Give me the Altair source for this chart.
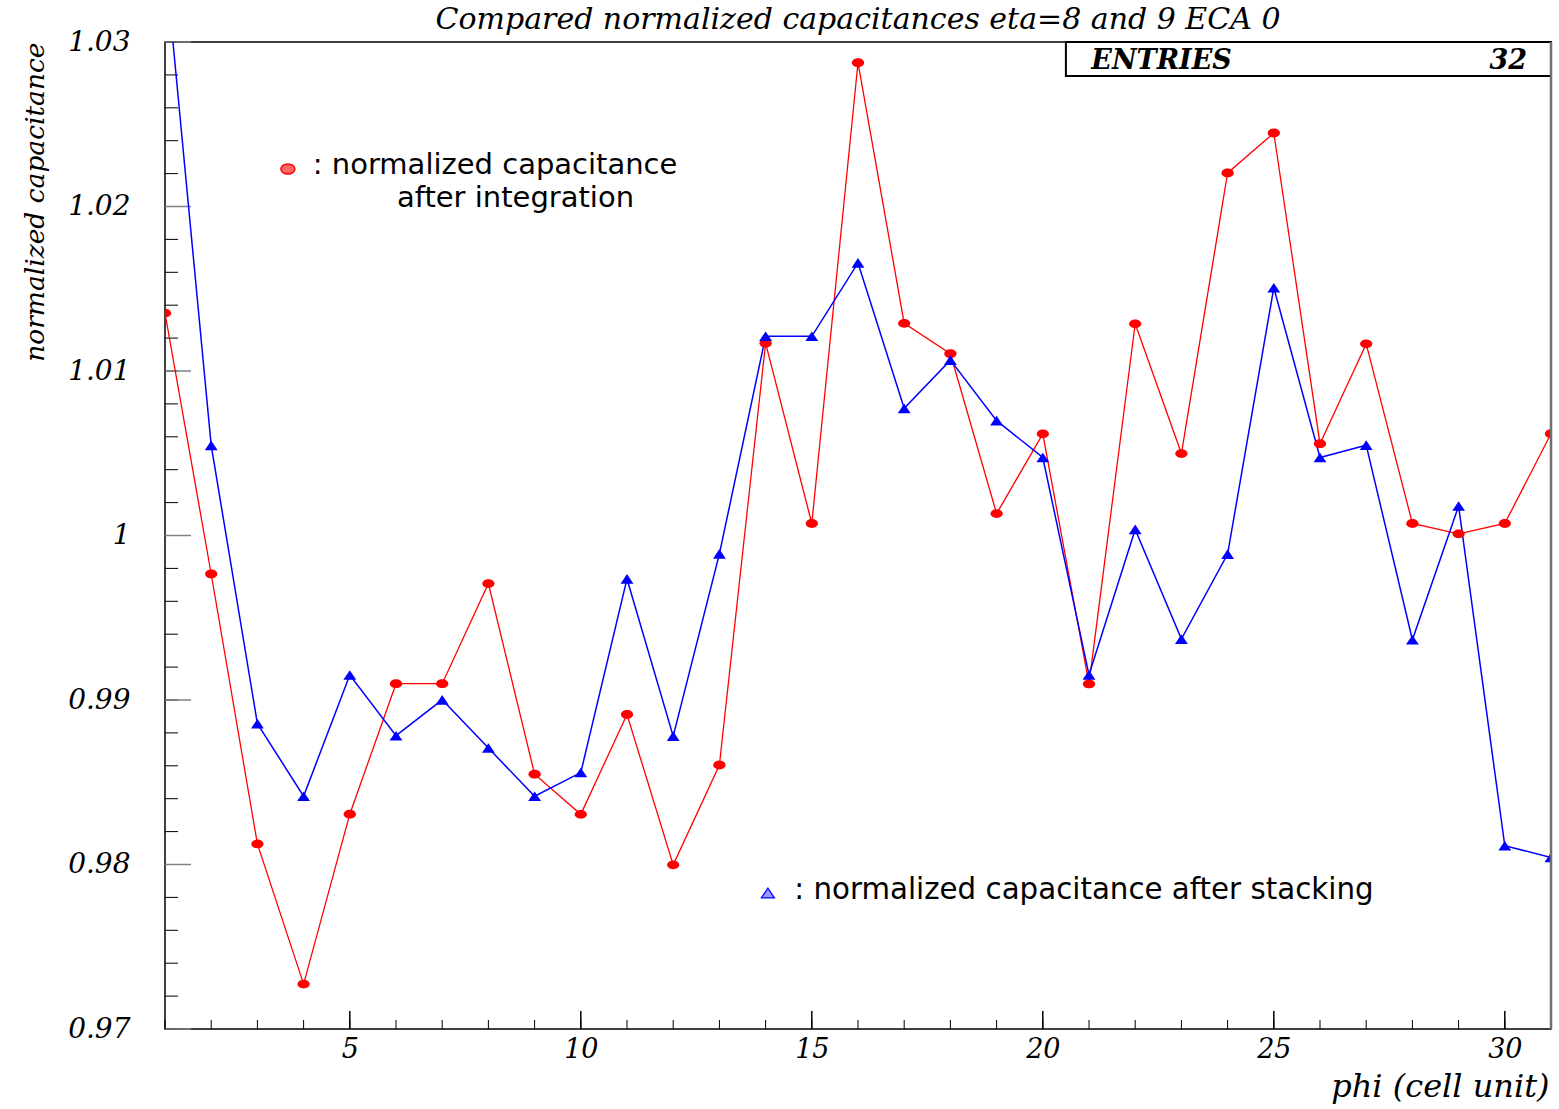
import altair as alt
import pandas as pd

# ---------------- data ----------------
phi = list(range(1, 32))

red_integration = [
    1.01352, 0.99766, 0.98125, 0.97273, 0.98306, 0.99099, 0.99099, 0.99708,
    0.98549, 0.98305, 0.98912, 0.97998, 0.98605, 1.01169, 1.00073, 1.02874,
    1.01290, 1.01105, 1.00133, 1.00618, 0.99098, 1.01287, 1.00498, 1.02204,
    1.02447, 1.00558, 1.01165, 1.00073, 1.00010, 1.00073, 1.00619,
]

blue_stacking = [
    1.03510, 1.00548, 0.98856, 0.98415, 0.99152, 0.98783, 0.99001, 0.98708,
    0.98415, 0.98559, 0.99736, 0.98780, 0.99888, 1.01211, 1.01211, 1.01657,
    1.00773, 1.01066, 1.00698, 1.00474, 0.99153, 1.00037, 0.99370, 0.99887,
    1.01506, 1.00474, 1.00549, 0.99366, 1.00179, 0.98114, 0.98043,
]

x_tick_labels = [5, 10, 15, 20, 25, 30]
y_tick_labels = [0.97, 0.98, 0.99, 1.00, 1.01, 1.02, 1.03]
x_minor_ticks = list(range(1, 32))
y_minor_ticks = [0.970, 0.972, 0.974, 0.976, 0.978, 0.980, 0.982, 0.984, 0.986,
                 0.988, 0.990, 0.992, 0.994, 0.996, 0.998, 1.000, 1.002, 1.004,
                 1.006, 1.008, 1.010, 1.012, 1.014, 1.016, 1.018, 1.020, 1.022,
                 1.024, 1.026, 1.028, 1.030]

title_text = ["Compared normalized capacitances eta=8 and 9 ECA 0"]
x_title = "phi (cell unit)"
y_title = "normalized capacitance"

# annotations (data coordinates)
legend_red_marker = {"x": [3.66], "y": [1.02228]}
legend_red_text = {"x": [4.20, 6.02], "y": [1.02198, 1.01997],
                   "t": [": normalized capacitance", "after integration"]}
legend_blue_marker = {"x": [14.05], "y": [0.97827]}
legend_blue_text = {"x": [14.62], "y": [0.97790],
                    "t": [": normalized capacitance after stacking"]}
stats_box = {"x": [20.5], "x2": [31.0], "y": [1.03], "y2": [1.02793]}
stats_label = {"x": [21.05], "y": [1.02834], "t": ["ENTRIES"]}
stats_value = {"x": [30.48], "y": [1.02834], "t": ["32"]}
frame_right = {"x": [31.0]}

# ---------------- layout ----------------
W, H = 1386, 987
SERIF = "DejaVu Serif"
SANS = "DejaVu Sans"

xs = alt.Scale(domain=[1, 31], nice=False, zero=False)
ys = alt.Scale(domain=[0.97, 1.03], nice=False, zero=False)

x_axis = alt.Axis(
    values=x_tick_labels, title=x_title, grid=False, ticks=False, domain=False,
    labelFont=SERIF, labelFontStyle="italic", labelFontSize=27, labelColor="black",
    labelPadding=7, labelOverlap=False, labelFlush=False,
    titleFont=SERIF, titleFontStyle="italic", titleFontWeight="normal",
    titleFontSize=32, titleColor="black", titleAlign="right",
    titleBaseline="alphabetic", titleX=W - 2, titleY=67, titleAnchor="end",
)
y_axis = alt.Axis(
    values=y_tick_labels, format=".3~g", title=y_title, grid=False, ticks=False,
    domain=False, labelFont=SERIF, labelFontStyle="italic", labelFontSize=28,
    labelColor="black", labelPadding=35, labelOverlap=False, labelFlush=False,
    titleFont=SERIF, titleFontStyle="italic", titleFontWeight="normal",
    titleFontSize=26.5, titleColor="black", titleAngle=270, titleAlign="right",
    titleBaseline="alphabetic", titleX=-122, titleY=0, titleAnchor="end",
)


def X(field="x"):
    return alt.X(f"{field}:Q", scale=xs, axis=x_axis)


def Y(field="y"):
    return alt.Y(f"{field}:Q", scale=ys, axis=y_axis)


ELLIPSE = "M-1,0A1,0.72 0 1,0 1,0A1,0.72 0 1,0 -1,0Z"
TRIANGLE = "M0,-0.75L1,0.75L-1,0.75Z"

df_red = pd.DataFrame({"x": phi, "y": red_integration})
df_blue = pd.DataFrame({"x": phi, "y": blue_stacking})

red_line = alt.Chart(df_red).mark_line(color="#ff0000", strokeWidth=1.3, clip=True).encode(x=X(), y=Y())
red_pts = alt.Chart(df_red).mark_point(shape=ELLIPSE, size=150, filled=True, color="#ff0000",
                                       opacity=1, clip=True).encode(x=X(), y=Y())
blue_line = alt.Chart(df_blue).mark_line(color="#0000ff", strokeWidth=1.5, clip=True).encode(x=X(), y=Y())
blue_pts = alt.Chart(df_blue).mark_point(shape=TRIANGLE, size=165, filled=True, color="#0000ff",
                                         opacity=1, clip=True).encode(x=X(), y=Y())

# inward ticks
y_minor = alt.Chart(pd.DataFrame({"y": y_minor_ticks})).mark_rule(color="black", strokeWidth=1).encode(
    y=Y(), x=alt.value(0), x2=alt.value(13))
y_major = alt.Chart(pd.DataFrame({"y": y_tick_labels})).mark_rule(color="#808080", strokeWidth=1.5).encode(
    y=Y(), x=alt.value(0), x2=alt.value(26))
x_minor = alt.Chart(pd.DataFrame({"x": x_minor_ticks})).mark_rule(color="black", strokeWidth=1).encode(
    x=X(), y=alt.value(H), y2=alt.value(H - 9))
x_major = alt.Chart(pd.DataFrame({"x": x_tick_labels})).mark_rule(color="black", strokeWidth=1.5).encode(
    x=X(), y=alt.value(H), y2=alt.value(H - 18))
right_edge = alt.Chart(pd.DataFrame(frame_right)).mark_rule(color="#707070", strokeWidth=2.5).encode(
    x=X(), y=alt.value(0), y2=alt.value(H))

# legend annotations
leg_red_m = alt.Chart(pd.DataFrame(legend_red_marker)).mark_point(
    shape=ELLIPSE, size=196, filled=True, fill="#ff6666", stroke="#ff0000", strokeWidth=1.5,
    opacity=1).encode(x=X(), y=Y())
leg_red_t = alt.Chart(pd.DataFrame(legend_red_text)).mark_text(
    align="left", baseline="alphabetic", font=SANS, fontSize=29, color="black").encode(
    x=X(), y=Y(), text="t:N")
leg_blue_m = alt.Chart(pd.DataFrame(legend_blue_marker)).mark_point(
    shape=TRIANGLE, size=170, filled=True, fill="#9999ff", stroke="#0000ff", strokeWidth=1.2,
    opacity=1).encode(x=X(), y=Y())
leg_blue_t = alt.Chart(pd.DataFrame(legend_blue_text)).mark_text(
    align="left", baseline="alphabetic", font=SANS, fontSize=29.3, color="black").encode(
    x=X(), y=Y(), text="t:N")

# stats box
box = alt.Chart(pd.DataFrame(stats_box)).mark_rect(
    fill="white", stroke="black", strokeWidth=2).encode(x=X(), x2="x2:Q", y=Y(), y2="y2:Q")
box_l = alt.Chart(pd.DataFrame(stats_label)).mark_text(
    align="left", baseline="alphabetic", font=SERIF, fontStyle="italic", fontWeight="bold",
    fontSize=27, color="black").encode(x=X(), y=Y(), text="t:N")
box_v = alt.Chart(pd.DataFrame(stats_value)).mark_text(
    align="right", baseline="alphabetic", font=SERIF, fontStyle="italic", fontWeight="bold",
    fontSize=27, color="black").encode(x=X(), y=Y(), text="t:N")

# chart title as a text mark above the plot
title_mark = alt.Chart(pd.DataFrame({"t": title_text})).mark_text(
    align="center", baseline="alphabetic", font=SERIF, fontStyle="italic", fontSize=30,
    color="black").encode(x=alt.value(W / 2), y=alt.value(-13), text="t:N")

chart = alt.layer(
    y_minor, y_major, x_minor, x_major,
    red_line, blue_line, red_pts, blue_pts,
    leg_red_m, leg_red_t, leg_blue_m, leg_blue_t,
    box, box_l, box_v, right_edge, title_mark,
).properties(
    width=W, height=H,
    padding={"left": 165, "top": 42, "right": 8, "bottom": 80},
    autosize=alt.AutoSizeParams(type="none"),
    background="white",
).configure_view(stroke="black", strokeWidth=1.5)

chart.save("out.html", embed_options={"renderer": "svg", "actions": False})
